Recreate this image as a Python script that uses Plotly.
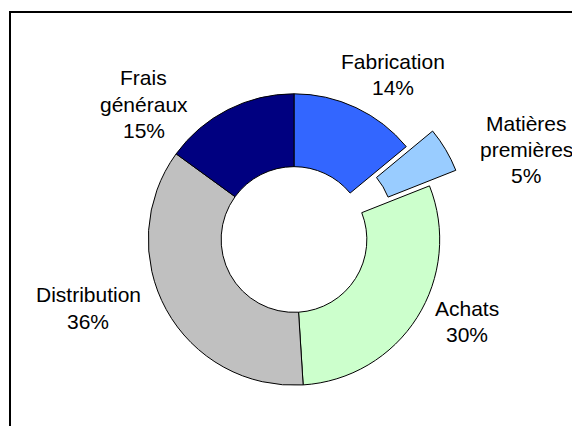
import plotly.graph_objects as go

categories = ["Fabrication", "Matières premières", "Achats", "Distribution", "Frais généraux"]
label_lines = [["Fabrication"], ["Matières", "premières"], ["Achats"], ["Distribution"], ["Frais", "généraux"]]
values = [14, 5, 30, 36, 15]
colors = ["#3366FF", "#99CCFF", "#CCFFCC", "#C0C0C0", "#000080"]
pulls = [0, 0.21, 0, 0, 0]

# label layout: centre x and first-line y (pixels in the 580x426 picture), line step
label_px = [(393, 61), (526, 123), (467, 308), (88, 294.5), (143.5, 77.5)]
LINE_STEP = 26.5

W, H = 580, 426
OFF = 8  # page body margin in the browser
total = sum(values)

def px_x(x):
    return (x - OFF) / W

def px_y(y):
    return 1 - (y - OFF) / H

cx, cy, half = 294, 239.5, 176.3

fig = go.Figure()
fig.add_trace(go.Pie(
    labels=categories,
    values=values,
    sort=False,
    direction="clockwise",
    rotation=0,
    hole=0.5,
    pull=pulls,
    marker=dict(colors=colors, line=dict(color="black", width=1)),
    textinfo="none",
    hoverinfo="label+percent",
    showlegend=False,
    domain=dict(x=[px_x(cx - half), px_x(cx + half)], y=[px_y(cy + half), px_y(cy - half)]),
))

annotations = []
font = dict(family="Liberation Sans, Arial, sans-serif", size=21, color="black")
for lines, v, (px, py) in zip(label_lines, values, label_px):
    pct = round(100 * v / total)
    for i, t in enumerate(lines + [f"{pct}%"]):
        annotations.append(dict(
            x=px_x(px), y=px_y(py + i * LINE_STEP), xref="paper", yref="paper",
            text=t, showarrow=False, xanchor="center", yanchor="middle",
            font=font,
        ))

fig.update_layout(
    width=W, height=H,
    margin=dict(l=0, r=0, t=0, b=0),
    paper_bgcolor="white", plot_bgcolor="white",
    annotations=annotations,
    shapes=[dict(type="rect", xref="paper", yref="paper",
                 x0=px_x(10), x1=1.1, y0=-0.1, y1=px_y(12),
                 line=dict(color="black", width=2), fillcolor="rgba(0,0,0,0)")],
)

fig.write_html("out.html")
